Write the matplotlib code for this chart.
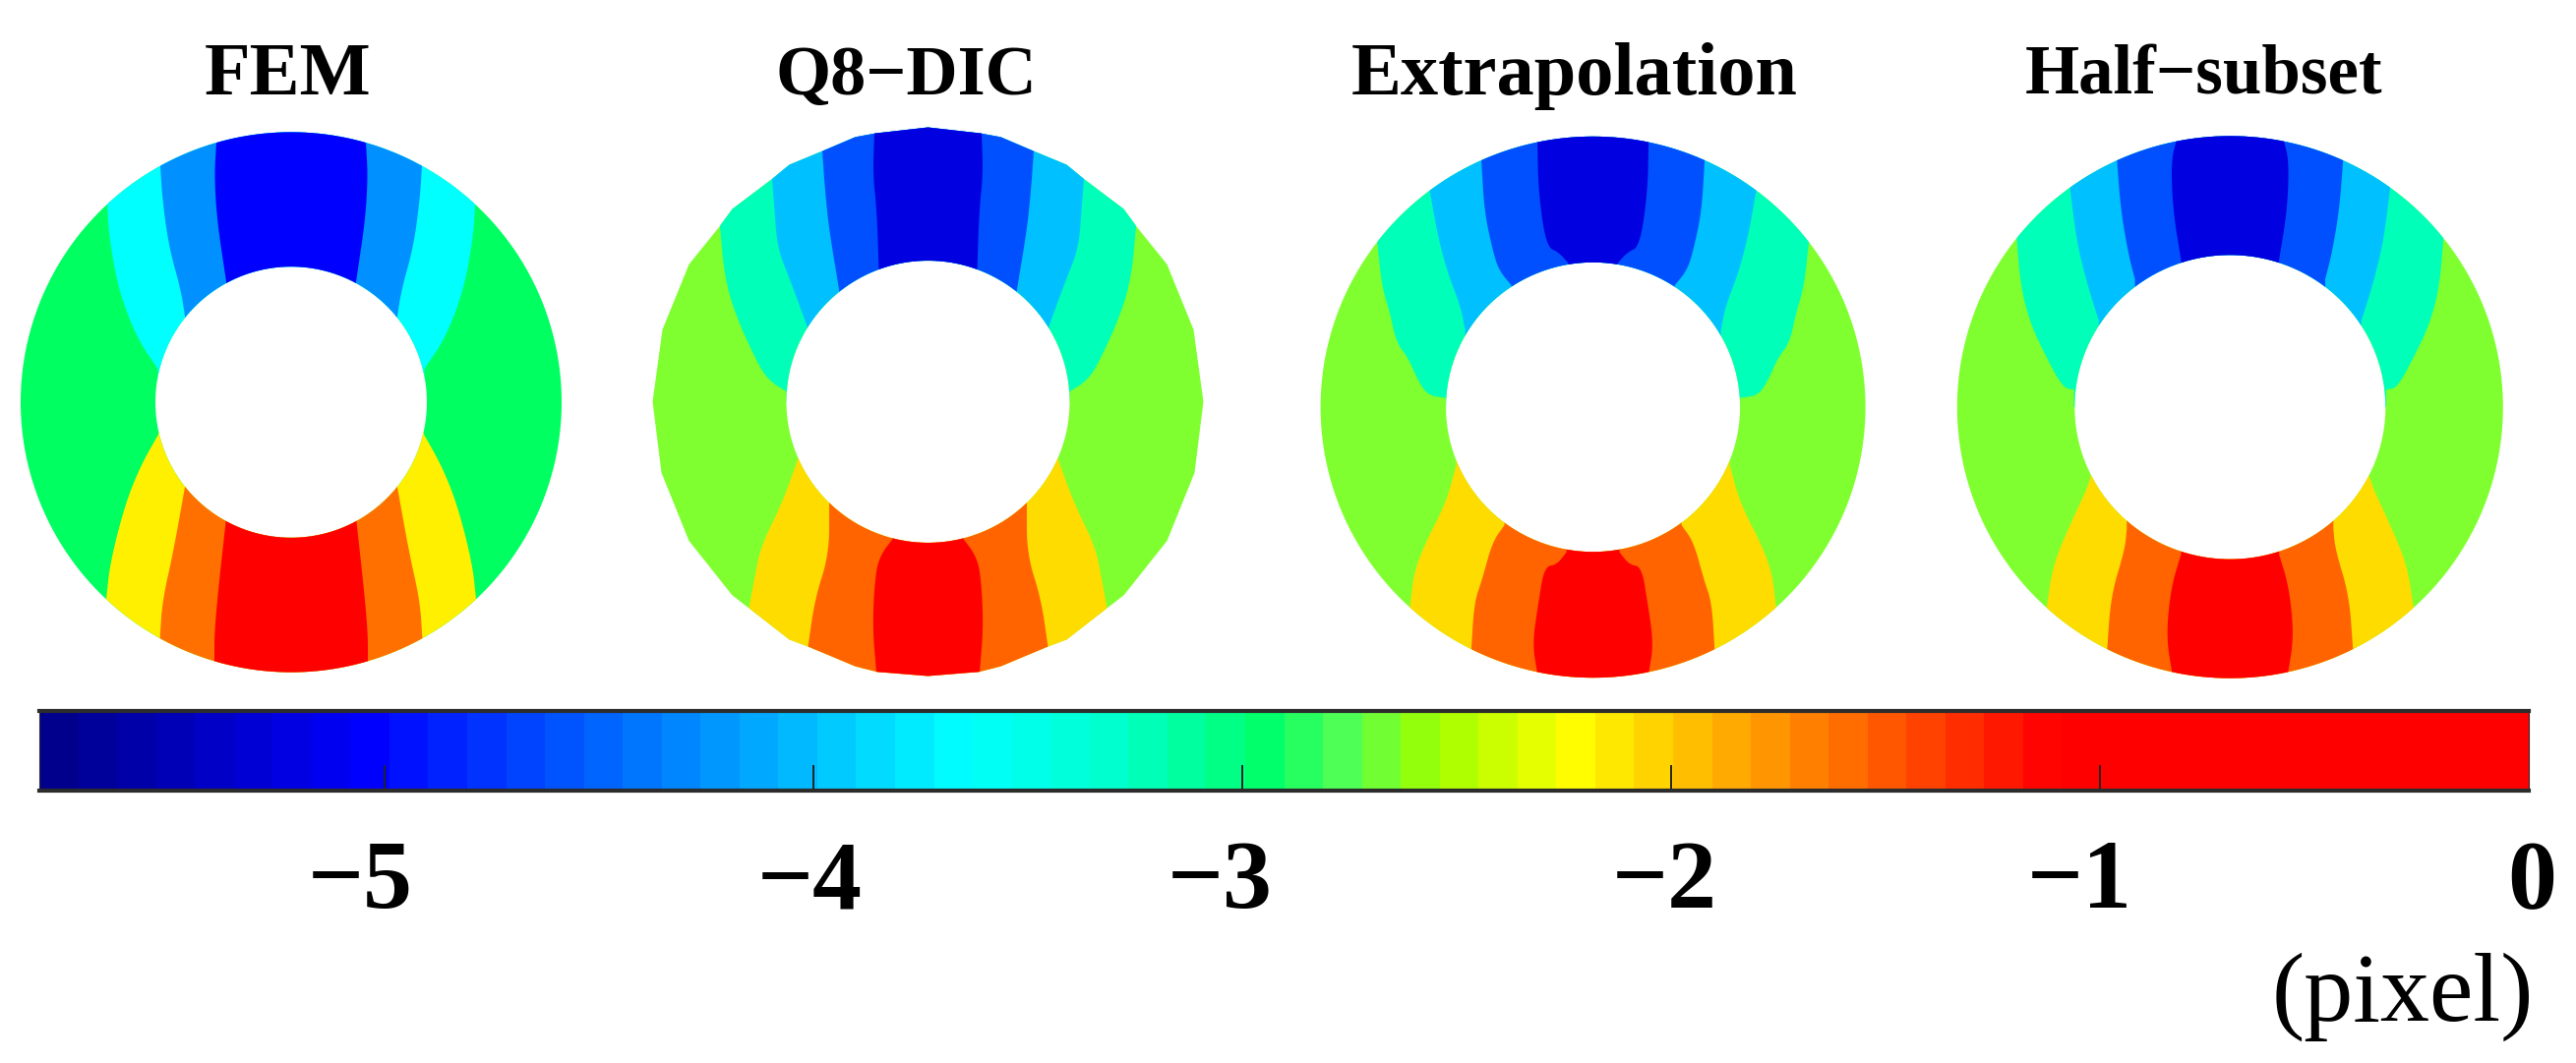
#-*- coding: utf-8 -*-
import numpy as np
import matplotlib
matplotlib.use("Agg")
import matplotlib.pyplot as plt
from matplotlib.path import Path
from matplotlib.patches import PathPatch
from matplotlib.colors import LinearSegmentedColormap

W, H = 2619, 1081

titles = ["FEM", "Q8\u2212DIC", "Extrapolation", "Half\u2212subset"]
tick_values = [-5, -4, -3, -2, -1, 0]
tick_labels = ["\u22125", "\u22124", "\u22123", "\u22122", "\u22121", "0"]
bar_min = -5.805
bar_bands = 64

# colours of the bar: value, (r, g, b)
bar_stops = [-5.805, -5.07, -3.67, -3.3, -2.95, -2.75, -2.55, -2.22, -1.09, 0.0]
bar_colors = [(0, 0, 0.55), (0, 0, 1), (0, 1, 1), (0, 1, 0.8), (0, 1, 0.42),
              (0.33, 1, 0.33), (0.62, 1, 0), (1, 1, 0), (1, 0, 0), (1, 0, 0)]

# right half of every contour line, the left half is its mirror image.
# lines run from the outer edge to the hole, (x, y) with y downwards
fem_top = [
    [(187, -184), (185, -153), (175.5, -104.5), (157, -60), (135.5, -31)],
    [(133, -220), (131, -190), (124.5, -145), (112, -104), (108, -80)],
    [(76, -241), (78, -211), (75.5, -170), (66, -112)],
]
fem_bottom = [
    [(188, 183), (184, 149), (169, 95.5), (153, 59), (135, 30)],
    [(133.5, 221), (131, 185), (120, 140), (108, 79)],
    [(78, 241), (78, 214), (73.5, 169), (66.5, 112)],
]
q8_top = [
    [(211.5, -190), (207, -137), (196.5, -96), (174, -43), (162, -23), (144, -11)],
    [(158.5, -242), (156, -206.5), (153, -166), (139, -129), (123, -82)],
    [(107.5, -272), (104.5, -227), (100.5, -186), (90, -119)],
    [(54.5, -291), (56, -247), (52, -206.5), (50, -143)],
]
q8_bottom = [
    [(182, 224), (176, 189), (170, 157), (147.5, 108), (132.5, 63)],
    [(122, 266), (115, 214), (100.5, 165), (100.5, 110)],
    [(52.5, 293.5), (56.5, 242.5), (53.5, 185), (47.5, 165), (36, 149)],
]
extra_top = [
    [(219.5, -180), (214.7, -131), (206.5, -102.5), (200, -70), (188, -53.5),
     (178, -29), (168, -12.7), (149.5, -10)],
    [(166, -235), (157.5, -184), (147, -143), (135, -110.6), (130, -84)],
    [(113.5, -268), (110.5, -213), (102.5, -172), (96, -149), (83, -132)],
    [(56.5, -287), (55.5, -233), (47.5, -174), (35, -168), (25, -156)],
]
extra_bottom = [
    [(186, 216.7), (182, 179), (170, 146.5), (149.4, 103.7), (139, 63)],
    [(123.7, 263), (120.8, 212), (112.7, 187), (102.4, 146.5), (90, 128)],
    [(56.7, 288), (61.6, 256.7), (55.5, 212), (49.4, 173), (37, 171), (27, 157.5)],
]
half_top = [
    [(217, -184), (213, -131), (203, -90), (186.5, -53.5), (170, -21), (158.8, -19)],
    [(163, -240), (156, -180), (145.7, -135), (133.5, -94)],
    [(115, -268.6), (111, -212.7), (102.9, -163.7), (96.7, -139)],
    [(54.7, -289), (60, -265.7), (58, -212.7), (49.8, -159.6)],
]
half_bottom = [
    [(186.5, 218), (180, 171), (162, 126), (145.7, 89), (141.6, 75)],
    [(125, 263), (121, 203.7), (107, 154.7), (105, 132)],
    [(58.8, 289), (65, 248.6), (60, 195.5), (49.8, 159.6)],
]

# outer edge of the Q8-DIC ring is a coarse polygon, right half only
q8_outline = [(0, -297.5), (54, -291), (74, -287), (107, -272), (141, -257),
              (158, -242), (199, -209), (212, -190), (243, -149), (270, -78),
              (280, 0), (271, 77), (243, 151), (199, 210), (182, 224), (141, 258),
              (121, 266), (74, 287), (52, 293), (0, 297.5)]

fem_colors = ["#00ff60", "#00ffff", "#0090ff", "#0000ff", "#fff000", "#ff7000", "#ff0000"]
q8_colors = ["#80ff30", "#00ffb8", "#00c0ff", "#0050ff", "#0000e0", "#ffdc00", "#ff6400", "#ff0000"]

# center x, center y, y scale, outer rx, outer ry, inner rx, inner ry
panels = [
    (296, 409, 1.094, 275, 251, 138, 126, fem_top, fem_bottom, fem_colors, None),
    (943.5, 408.5, 0.9376, 280, 297.5, 144, 153, q8_top, q8_bottom, q8_colors, q8_outline),
    (1619.6, 414, 0.9376, 277, 293.5, 149.5, 157, extra_top, extra_bottom, q8_colors, None),
    (2267.3, 414, 0.9376, 277.5, 294, 158, 165, half_top, half_bottom, q8_colors, None),
]
title_x = [293, 921, 1601, 2241]
title_size = [55, 52, 55, 51]
tick_shift = [-25, -4, -23, -7, -21, 3]

plt.rcParams["font.family"] = ["Liberation Serif", "DejaVu Serif"]


def px_axes(fig, left, top, right, bottom):
    return fig.add_axes([left / W, 1 - bottom / H, (right - left) / W, (bottom - top) / H])


def ellipse(rx, ry):
    t = np.linspace(0, 2 * np.pi, 241)
    return np.column_stack([rx * np.cos(t), ry * np.sin(t)])


def ring_path(outer, inner):
    verts = np.vstack([outer, inner[::-1]])
    codes = [Path.MOVETO] + [Path.LINETO] * (len(outer) - 1)
    codes += [Path.MOVETO] + [Path.LINETO] * (len(inner) - 1)
    return Path(verts, codes)


def soften(pts, rounds=3):
    # corner cutting, the contour lines are smooth in the original
    for i in range(rounds):
        a = pts[:-1] * 0.75 + pts[1:] * 0.25
        b = pts[:-1] * 0.25 + pts[1:] * 0.75
        mid = np.empty((len(a) * 2, 2))
        mid[0::2] = a
        mid[1::2] = b
        pts = np.vstack([pts[:1], mid, pts[-1:]])
    return pts


def band_polygon(line, far):
    right = soften(np.array(line, dtype=float))
    right = np.vstack([[right[0, 0], far], right, [right[-1, 0], 0]])
    left = right[::-1] * [-1, 1]
    return np.vstack([right, left])


def draw_panel(fig, cx, cy, yscale, orx, ory, irx, iry, top, bottom, colors, outline):
    ax = px_axes(fig, cx - 300, cy - 300, cx + 300, cy + 300)
    ax.set_xlim(-300, 300)
    ax.set_ylim(300 / yscale, -300 / yscale)
    ax.axis("off")
    if outline is None:
        outer = ellipse(orx, ory)
    else:
        half = np.array(outline, dtype=float)
        outer = np.vstack([half, half[::-1][1:] * [-1, 1]])
    ring = PathPatch(ring_path(outer, ellipse(irx, iry)), fc=colors[0], ec="none")
    ax.add_patch(ring)
    for line, c in zip(top, colors[1:]):
        poly, = ax.fill(*band_polygon(line, -ory * 1.3).T, color=c, lw=0)
        poly.set_clip_path(ring)
    for line, c in zip(bottom, colors[len(top) + 1:]):
        poly, = ax.fill(*band_polygon(line, ory * 1.3).T, color=c, lw=0)
        poly.set_clip_path(ring)


def draw_bar(fig):
    ax = px_axes(fig, 40, 723, 2571, 804)
    pos = [(v - bar_min) / (0 - bar_min) for v in bar_stops]
    cmap = LinearSegmentedColormap.from_list("bar", list(zip(pos, bar_colors)), N=bar_bands)
    edges = np.linspace(bar_min, 0, bar_bands + 1)
    ax.pcolormesh(edges, [0, 1], np.arange(bar_bands).reshape(1, -1), cmap=cmap, shading="flat")
    ax.set_xlim(bar_min, 0)
    ax.set_ylim(0, 1)
    ax.set_yticks([])
    ax.set_xticks(tick_values[:-1])
    ax.tick_params(axis="x", direction="in", length=19, width=1.4, color="#222222", labelbottom=False)
    for side, s in ax.spines.items():
        s.set_linewidth(3 if side in ("top", "bottom") else 0.8)
        s.set_edgecolor("#2c2c2c")
    for v, lab, dx in zip(tick_values, tick_labels, tick_shift):
        ax.annotate(lab, (v, 0), xycoords=("data", "axes fraction"), xytext=(dx, -119),
                    textcoords="offset pixels", ha="center", va="baseline",
                    fontsize=72, fontweight="bold", annotation_clip=False)


fig = plt.figure(figsize=(W / 100, H / 100), dpi=100, facecolor="white")
for p in panels:
    draw_panel(fig, *p)
for name, x, size in zip(titles, title_x, title_size):
    fig.text(x / W, 1 - 96 / H, name, ha="center", va="baseline", fontsize=size, fontweight="bold")
draw_bar(fig)
fig.text(2576 / W, 1 - 1038 / H, "(pixel)", ha="right", va="baseline", fontsize=72)
fig.savefig("out.png", dpi=100)
